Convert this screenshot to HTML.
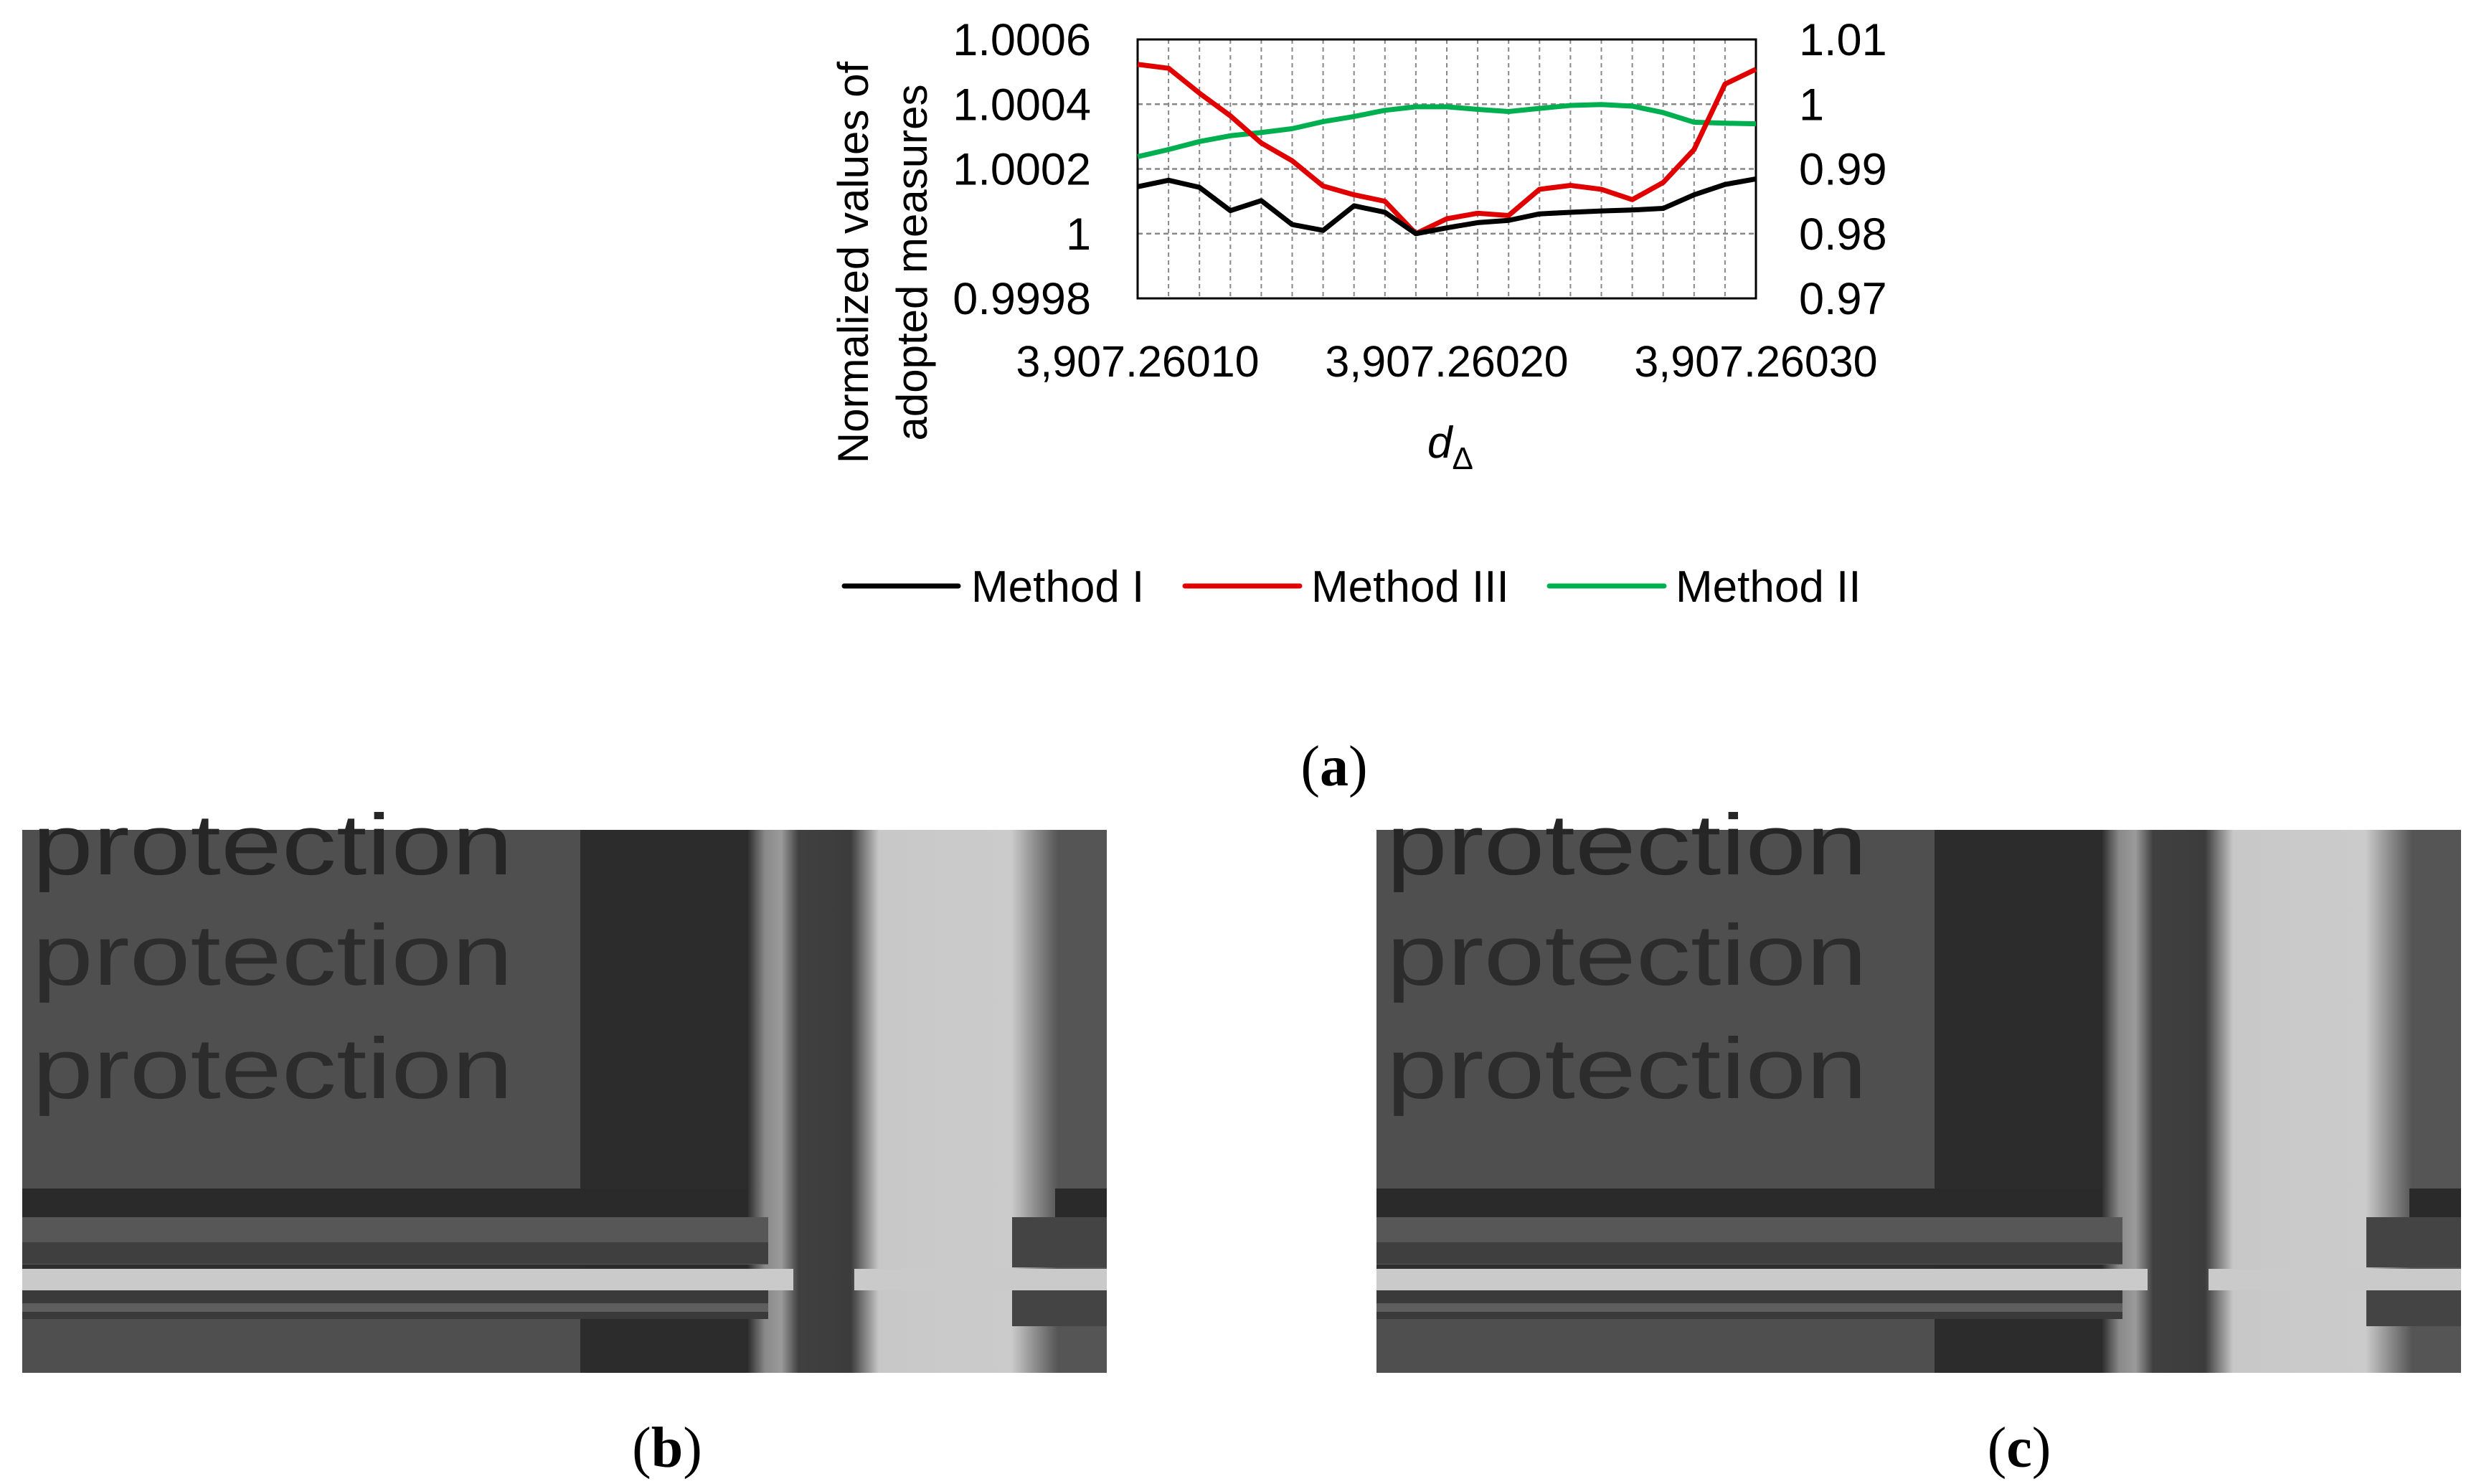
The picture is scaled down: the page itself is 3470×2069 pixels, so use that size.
<!DOCTYPE html>
<html><head><meta charset="utf-8"><style>
html,body{margin:0;padding:0;background:#fff;}
body{width:3470px;height:2069px;position:relative;overflow:hidden;}
svg{position:absolute;left:0;top:0;}
</style></head><body>
<svg id="fig" width="3470" height="2069" viewBox="0 0 3470 2069" xmlns="http://www.w3.org/2000/svg" font-family="'Liberation Sans', sans-serif">
  <defs>
    <linearGradient id="vg" x1="0" x2="1" y1="0" y2="0">
      <stop offset="0" stop-color="#2e2e2e"/>
      <stop offset="0.669" stop-color="#2e2e2e"/>
      <stop offset="0.685" stop-color="#8a8a8a"/>
      <stop offset="0.700" stop-color="#9a9a9a"/>
      <stop offset="0.716" stop-color="#404040"/>
      <stop offset="0.764" stop-color="#3c3c3c"/>
      <stop offset="0.790" stop-color="#c8c8c8"/>
      <stop offset="0.912" stop-color="#cbcbcb"/>
      <stop offset="0.935" stop-color="#8a8a8a"/>
      <stop offset="0.955" stop-color="#555"/>
      <stop offset="1" stop-color="#555"/>
    </linearGradient>
    <g id="photo">
      <rect x="0" y="0" width="1512" height="757" fill="url(#vg)"/>
      <rect x="0" y="0" width="778" height="500" fill="#4f4f4f"/>
      <rect x="778" y="0" width="234" height="757" fill="#2c2c2c"/>
      <rect x="0" y="500" width="1012" height="40" fill="#2a2a2a"/>
      <rect x="0" y="540" width="1040" height="66" fill="#575757"/>
      <rect x="0" y="575" width="1040" height="30" fill="#3a3a3a" opacity="0.8"/>
      <rect x="0" y="612" width="1075" height="30" fill="#cacaca"/>
      <rect x="1160" y="612" width="352" height="30" fill="#cacaca"/>
      <rect x="0" y="642" width="1040" height="40" fill="#3a3a3a"/>
      <rect x="0" y="660" width="1040" height="12" fill="#5e5e5e"/>
      <rect x="0" y="682" width="778" height="75" fill="#4f4f4f"/>
      <rect x="1440" y="500" width="72" height="40" fill="#2a2a2a"/>
      <rect x="1380" y="540" width="132" height="70" fill="#444"/>
      <rect x="1380" y="642" width="132" height="50" fill="#444"/>
      <g fill="#262626" font-size="120" font-family="'Liberation Sans', sans-serif">
        <text x="14" y="62" textLength="670" lengthAdjust="spacingAndGlyphs">protection</text>
        <text x="14" y="216" textLength="670" lengthAdjust="spacingAndGlyphs" opacity="0.85">protection</text>
        <text x="14" y="374" textLength="670" lengthAdjust="spacingAndGlyphs" opacity="0.85">protection</text>
      </g>
    </g>
  </defs>

  <g id="chart"></g>

  <g font-size="62">
    <g>
      <line x1="1177" y1="817" x2="1336" y2="817" stroke="#000" stroke-width="7" stroke-linecap="round"/>
      <text x="1354" y="839" fill="#000">Method I</text>
    </g>
    <g>
      <line x1="1652" y1="817" x2="1812" y2="817" stroke="#e00000" stroke-width="7" stroke-linecap="round"/>
      <text x="1828" y="839" fill="#000">Method III</text>
    </g>
    <g>
      <line x1="2160" y1="817" x2="2320" y2="817" stroke="#00b050" stroke-width="7" stroke-linecap="round"/>
      <text x="2336" y="839" fill="#000">Method II</text>
    </g>
  </g>

  <text x="1860" y="1095" text-anchor="middle" font-family="'Liberation Serif', serif" font-size="80">(<tspan font-weight="bold">a</tspan>)</text>

  <g><use href="#photo" x="31" y="1157"/></g>
  <g><use href="#photo" x="1919" y="1157"/></g>
  <text x="930" y="2045" text-anchor="middle" font-family="'Liberation Serif', serif" font-size="80">(<tspan font-weight="bold">b</tspan>)</text>
  <text x="2815" y="2045" text-anchor="middle" font-family="'Liberation Serif', serif" font-size="80">(<tspan font-weight="bold">c</tspan>)</text>
</svg>
<script>
const categories = [0,1,2,3,4,5,6,7,8,9,10,11,12,13,14,15,16,17,18,19,20];
const methodI = [1.000145,1.000165,1.000143,1.000071,1.000102,1.000028,1.00001,1.000086,1.000066,1.0,1.000018,1.000034,1.000041,1.000061,1.000066,1.00007,1.000073,1.000078,1.00012,1.000152,1.000169];
const methodIII = [1.000523,1.000511,1.000434,1.000364,1.00028,1.000225,1.000147,1.00012,1.0001,1.0,1.000046,1.000063,1.000056,1.000137,1.000149,1.000137,1.000105,1.000158,1.00026,1.000462,1.000508];
const methodII = [0.99189,0.99299,0.99423,0.99512,0.99562,0.99622,0.99731,0.9981,0.99905,0.9996,0.9996,0.9992,0.99886,0.99935,0.9998,0.99995,0.9997,0.9987,0.99721,0.99706,0.99697];
const leftTicks = [0.9998,1.0,1.0002,1.0004,1.0006];
const leftTickLabels = ["0.9998","1","1.0002","1.0004","1.0006"];
const rightTicks = [0.97,0.98,0.99,1.0,1.01];
const rightTickLabels = ["0.97","0.98","0.99","1","1.01"];
const xTickIdx = [0,10,20];
const xTickLabels = ["3,907.26010","3,907.26020","3,907.26030"];

const NS = "http://www.w3.org/2000/svg";
const L = 1586, R = 2448, T = 55, B = 416;
const xs = i => L + (i - categories[0]) / (categories[categories.length-1] - categories[0]) * (R - L);
const yl = v => B - (v - 0.9998) / (1.0006 - 0.9998) * (B - T);
const yr = v => B - (v - 0.97) / (1.01 - 0.97) * (B - T);
const g = document.getElementById('chart');
function mk(tag, attrs, parent){ const e=document.createElementNS(NS,tag); for(const k in attrs) e.setAttribute(k,attrs[k]); (parent||g).appendChild(e); return e; }

categories.forEach(c => {
  const l = mk('line',{x1:xs(c),x2:xs(c),y1:T,y2:B,stroke:'#888','stroke-width':2,'stroke-dasharray':'6,5'});
  
  
});
leftTicks.forEach(v => {
  if (v<=0.9998 || v>=1.0006) return;
  const l = mk('line',{x1:L,x2:R,y1:yl(v),y2:yl(v),stroke:'#888','stroke-width':2.5,'stroke-dasharray':'7,5'});
  
  
});
const frame = mk('rect',{x:L,y:T,width:R-L,height:B-T,fill:'none',stroke:'#000','stroke-width':3});



function series(vals, fy, color, name){
  const p = mk('polyline',{points: vals.map((v,i)=>xs(categories[i])+','+fy(v)).join(' '), fill:'none', stroke:color,'stroke-width':7,'stroke-linejoin':'round'});
  
  
}
series(methodII, yr, '#00b050', 'line-method-ii');
series(methodIII, yl, '#e00000', 'line-method-iii');
series(methodI, yl, '#000000', 'line-method-i');

leftTicks.forEach((v,i) => {
  const t = mk('text',{x:1521,y:yl(v)+22,'text-anchor':'end','font-size':63});
  t.textContent = leftTickLabels[i];
  
  
});
rightTicks.forEach((v,i) => {
  const t = mk('text',{x:2508,y:yr(v)+22,'text-anchor':'start','font-size':63});
  t.textContent = rightTickLabels[i];
  
  
});
xTickIdx.forEach((c,i) => {
  const t = mk('text',{x:xs(c),y:525,'text-anchor':'middle','font-size':61});
  t.textContent = xTickLabels[i];
  
  
});
const xt = mk('text',{x:1990,y:638,'font-size':62,'font-style':'italic'});
xt.innerHTML = 'd<tspan font-style="normal" font-size="44" dy="16">Δ</tspan>';


const yt = mk('text',{transform:'translate(1210,366) rotate(-90)','text-anchor':'middle','font-size':60});
yt.innerHTML = '<tspan x="0" dy="0">Normalized values of</tspan><tspan x="0" dy="82">adopted measures</tspan>';


</script>
</body></html>
